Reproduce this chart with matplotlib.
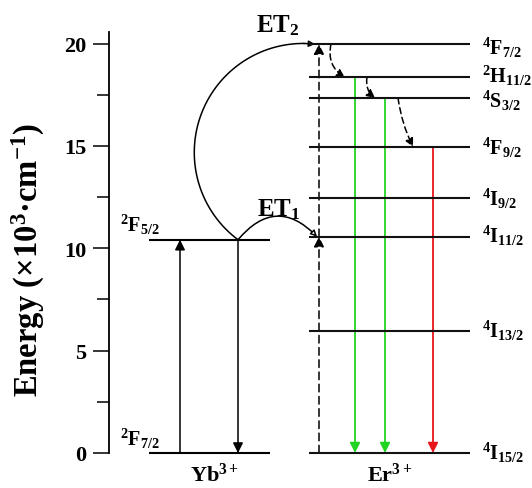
import numpy as np
import matplotlib
matplotlib.use("Agg")
import matplotlib.pyplot as plt
from matplotlib.patches import FancyArrowPatch

plt.rcParams["font.family"] = ["Liberation Serif", "DejaVu Serif"]
plt.rcParams["font.weight"] = "bold"
plt.rcParams["mathtext.fontset"] = "custom"
plt.rcParams["mathtext.rm"] = "Liberation Serif:bold"
plt.rcParams["mathtext.it"] = "Liberation Serif:bold"
plt.rcParams["mathtext.bf"] = "Liberation Serif:bold"

# ── Energy levels (x10^3 cm^-1) ──────────────────
yb_levels = [0.0, 10.42]
yb_labels = [r"$^{2}$F$_{7/2}$", r"$^{2}$F$_{5/2}$"]

er_levels = [0.0, 5.97, 10.57, 12.46, 14.96, 17.35, 18.35, 19.98]
er_labels = [r"$^{4}$I$_{15/2}$", r"$^{4}$I$_{13/2}$", r"$^{4}$I$_{11/2}$",
             r"$^{4}$I$_{9/2}$", r"$^{4}$F$_{9/2}$", r"$^{4}$S$_{3/2}$",
             r"$^{2}$H$_{11/2}$", r"$^{4}$F$_{7/2}$"]

yticks_major = [0, 5, 10, 15, 20]
yticks_minor = [2.5, 7.5, 12.5, 17.5]

# emissions: (upper level index in er_levels, colour)
emissions = [(6, "#22d422"), (5, "#22d422"), (4, "#e8161a")]

# ── Layout (x axis in pixel units) ───────────────
PX_PER_UNIT = 421 / 20.57
YB_X = (149, 270)
ER_X = (309, 470)
YB_UP_X, YB_DOWN_X = 180, 238
ER_PUMP_X = 319
EMIT_X = [355, 385, 433]
NR_X = [(331, 345), (367, 375), (398, 413)]
# label baseline offsets (points) per Er level
ER_LAB_DY = [-4.5, -4, -3.5, -5, -5, -6.5, -3.5, -7]

fig = plt.figure(figsize=(5.32, 4.89), dpi=100)
ax = fig.add_axes([109 / 532, 35 / 489, 423 / 532, 421 / 489])
ax.set_xlim(109, 532)
ax.set_ylim(0, 20.57)

for s in ("top", "right", "bottom"):
    ax.spines[s].set_visible(False)
ax.spines["left"].set_linewidth(1.3)
ax.set_xticks([])
ax.set_yticks(yticks_major)
ax.set_yticks(yticks_minor, minor=True)
ax.tick_params(axis="y", which="major", length=11.5, width=1.1,
               labelsize=16, pad=5)
ax.tick_params(axis="y", which="minor", length=8.8, width=1.1)
for t in ax.get_yticklabels():
    t.set_fontweight("bold")

fig.text(28 / 532, 1 - 260 / 489,
         r"Energy (×10$^{3}$·cm$^{-1}$)",
         rotation=90, ha="center", va="center", fontsize=23.5,
         fontweight="bold")

# ── Level lines ──────────────────────────────────
for e, lab in zip(yb_levels, yb_labels):
    ax.plot(YB_X, [e, e], color="black", lw=1.5, clip_on=False,
            solid_capstyle="butt")
    ax.annotate(lab, (120, e), xytext=(0, 2.5), textcoords="offset points",
                fontsize=14.5, ha="left", va="bottom")

for e, lab, dy in zip(er_levels, er_labels, ER_LAB_DY):
    ax.plot(ER_X, [e, e], color="#111111", lw=1.5, clip_on=False,
            solid_capstyle="butt")
    ax.annotate(lab, (482, e), xytext=(0, dy), textcoords="offset points",
                fontsize=14.5, ha="left", va="baseline")


def arrow(x0, y0, x1, y1, color="black", ls="-", rad=0.0, lw=1.1, ms=15):
    p = FancyArrowPatch((x0, y0), (x1, y1), arrowstyle="-|>",
                        connectionstyle=f"arc3,rad={rad}",
                        mutation_scale=ms, color=color, lw=lw,
                        linestyle=ls, shrinkA=0, shrinkB=0, clip_on=False)
    ax.add_patch(p)


# Yb absorption / relaxation
arrow(YB_UP_X, yb_levels[0], YB_UP_X, yb_levels[1])
arrow(YB_DOWN_X, yb_levels[1], YB_DOWN_X, yb_levels[0])

# Er dashed pump steps
arrow(ER_PUMP_X, er_levels[0], ER_PUMP_X, er_levels[2], ls=(0, (5, 3)))
arrow(ER_PUMP_X, er_levels[2], ER_PUMP_X, er_levels[7], ls=(0, (5, 3)))

# emissions
for x, (idx, col) in zip(EMIT_X, emissions):
    arrow(x, er_levels[idx], x, er_levels[0], color=col, lw=1.3)

# non-radiative relaxation
nr_pairs = [(7, 6), (6, 5), (5, 4)]
nr_rad = [0.35, 0.3, 0.08]
for (xa, xb), (a, b), r in zip(NR_X, nr_pairs, nr_rad):
    arrow(xa, er_levels[a], xb, er_levels[b], ls=(0, (4, 2.5)), rad=r,
          ms=12)

# ET1: small arc
et1 = FancyArrowPatch((YB_DOWN_X, yb_levels[1]), (ER_PUMP_X - 2, er_levels[2]),
                      arrowstyle="-|>", connectionstyle="arc3,rad=-0.55",
                      mutation_scale=9, lw=1.1, ec="black", fc="white",
                      shrinkA=0, shrinkB=0)
ax.add_patch(et1)

# ET2: big circular arc (computed in pixel space)
sx, sy = YB_DOWN_X, 454 - yb_levels[1] * PX_PER_UNIT
ex, ey = ER_PUMP_X - 4, 454 - er_levels[7] * PX_PER_UNIT
R = 109.0
mx, my = (sx + ex) / 2, (sy + ey) / 2
dx, dy = ex - sx, ey - sy
d = np.hypot(dx, dy)
h = np.sqrt(R ** 2 - (d / 2) ** 2)
px, py = -dy / d, dx / d
cx, cy = mx + h * px, my + h * py
a0 = np.arctan2(-(sy - cy), sx - cx) % (2 * np.pi)
a1 = np.arctan2(-(ey - cy), ex - cx) % (2 * np.pi)
ang = np.linspace(a0, a1, 200)
arc_x = cx + R * np.cos(ang)
arc_y = (454 - (cy - R * np.sin(ang))) / PX_PER_UNIT
ax.plot(arc_x[:-8], arc_y[:-8], color="black", lw=1.1, clip_on=False)
et2 = FancyArrowPatch((arc_x[-9], arc_y[-9]), (arc_x[-1], arc_y[-1]),
                      arrowstyle="-|>", mutation_scale=9, lw=1.1,
                      ec="black", fc="white", shrinkA=0, shrinkB=0,
                      clip_on=False)
ax.add_patch(et2)

ax.text(256, 20.62, r"ET$_{2}$", fontsize=18, ha="left", va="baseline",
        clip_on=False)
ax.text(257, 11.63, r"ET$_{1}$", fontsize=18, ha="left", va="baseline")

ax.text(215, -1.62, r"Yb$^{3+}$", fontsize=16, ha="center", va="bottom",
        clip_on=False)
ax.text(390, -1.62, r"Er$^{3+}$", fontsize=16, ha="center", va="bottom",
        clip_on=False)

fig.savefig("out.png", dpi=100)
